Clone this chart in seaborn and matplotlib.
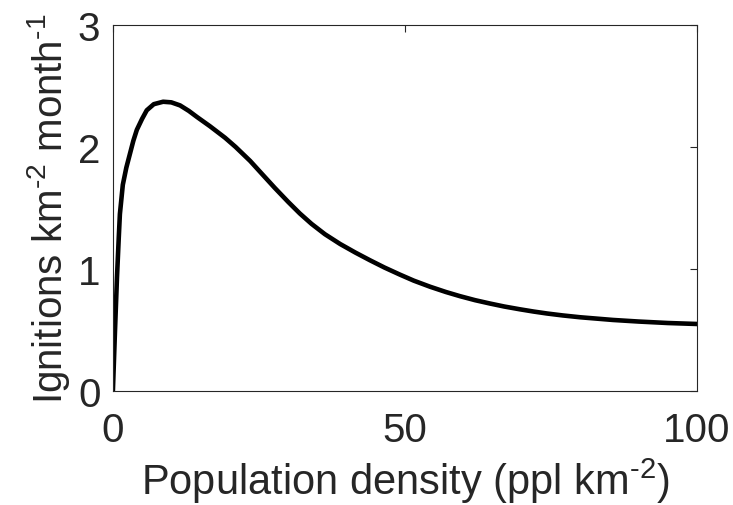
import pandas as pd
import matplotlib
matplotlib.use('Agg')
import matplotlib.pyplot as plt
import seaborn as sns

# valores
densidade = [0, 0.35, 0.7, 1.0, 1.2, 1.7, 2.3, 2.9, 3.5, 4.1, 5, 5.8, 7, 8.6, 10, 11.5,
             13, 14.4, 16.6, 19.2, 21, 23.5, 25.5, 27.7, 30, 32, 34, 36.3, 38.9, 41.5,
             44, 46.5, 49.1, 51.5, 54.3, 57, 59.4, 62, 64.6, 67, 69.7, 72, 74.3, 77,
             80, 85.6, 90, 95, 100]
ignicoes = [0, 0.48, 0.93, 1.25, 1.45, 1.69, 1.83, 1.94, 2.05, 2.14, 2.23, 2.30, 2.35,
            2.37, 2.365, 2.34, 2.295, 2.245, 2.17, 2.075, 2.0, 1.885, 1.78, 1.665, 1.55,
            1.455, 1.37, 1.285, 1.205, 1.135, 1.072, 1.012, 0.955, 0.905, 0.855, 0.812,
            0.778, 0.745, 0.717, 0.693, 0.67, 0.652, 0.636, 0.62, 0.605, 0.583, 0.57,
            0.558, 0.55]
x_ticks = [0, 50, 100]
y_ticks = [0, 1, 2, 3]

data = pd.DataFrame({'densidade': densidade, 'ignicoes': ignicoes})

sns.set_style('white')
plt.rcParams['font.family'] = ['Liberation Sans', 'DejaVu Sans']
plt.rcParams['mathtext.fontset'] = 'custom'
plt.rcParams['mathtext.rm'] = 'Liberation Sans'
plt.rcParams['mathtext.default'] = 'regular'

cor_texto = '#262626'

fig = plt.figure(figsize=(7.33, 5.06), dpi=100)
ax = fig.add_axes([0.154, 0.225, 0.797, 0.724])

sns.lineplot(x='densidade', y='ignicoes', data=data, color='black', linewidth=3.3, ax=ax)

ax.set_xlim(0, 100)
ax.set_ylim(0, 3)
ax.set_xticks(x_ticks)
ax.set_yticks(y_ticks)
ax.tick_params(direction='in', length=5, width=0.8, colors=cor_texto, labelsize=29,
               top=True, right=True)
ax.tick_params(axis='x', pad=14)
ax.tick_params(axis='y', pad=9)
for s in ax.spines.values():
    s.set_color(cor_texto)
    s.set_linewidth(0.8)
    s.set_visible(True)

ax.set_xlabel(r'Population density (ppl km$^{\text{-2}}$)', fontsize=30, color=cor_texto,
              labelpad=5)
ax.set_ylabel(r'Ignitions km$^{\text{-2}}$ month$^{\text{-1}}$', fontsize=29,
              color=cor_texto, labelpad=4)

plt.savefig('out.png', dpi=100)
